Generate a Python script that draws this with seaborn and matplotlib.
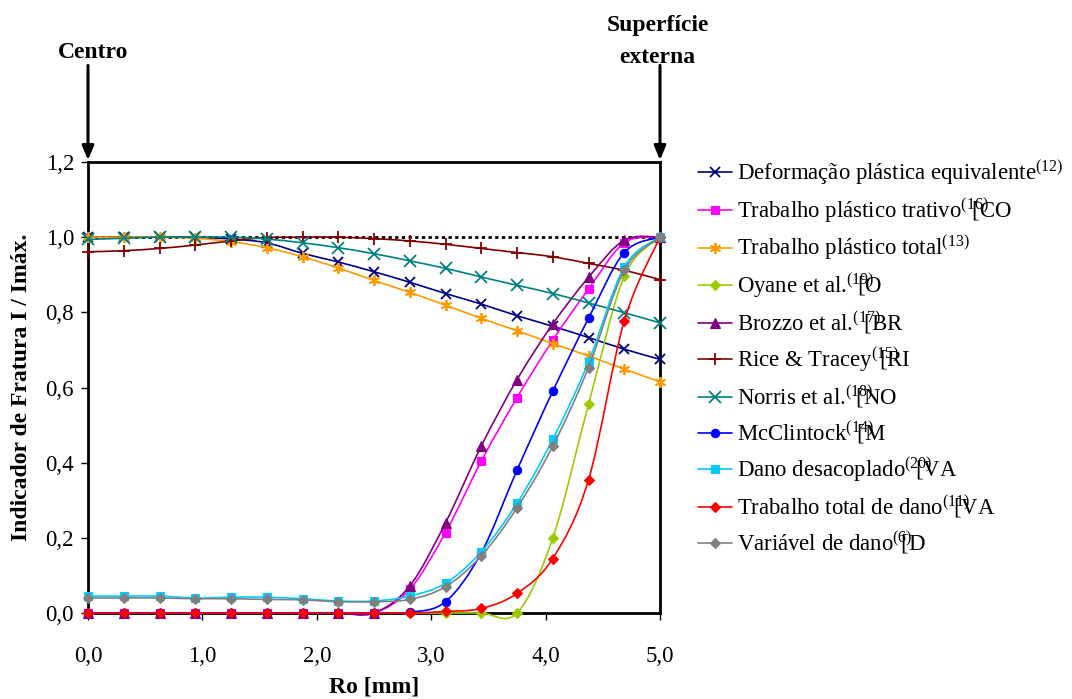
import numpy as np
import matplotlib
matplotlib.use("Agg")
import matplotlib.pyplot as plt
from matplotlib.path import Path
from matplotlib.patches import PathPatch
from matplotlib.lines import Line2D
import seaborn as sns

sns.set_theme(style="white")
plt.rcParams["font.family"] = ["Liberation Serif", "DejaVu Serif"]
plt.rcParams["mathtext.fontset"] = "custom"
plt.rcParams["mathtext.rm"] = "Liberation Serif"
plt.rcParams["mathtext.it"] = "Liberation Serif:italic"
plt.rcParams["mathtext.bf"] = "Liberation Serif:bold"

# raio medido a partir do centro [mm]
ro = [0.0, 0.3125, 0.625, 0.9375, 1.25, 1.5625, 1.875, 2.1875, 2.5,
      2.8125, 3.125, 3.4375, 3.75, 4.0625, 4.375, 4.6875, 5.0]

# indicador de fratura normalizado I / Imax para cada criterio
deformacao = [1.0, 1.0, 1.0, 1.0, 0.995, 0.985, 0.957, 0.934, 0.908,
              0.880, 0.850, 0.822, 0.791, 0.763, 0.733, 0.702, 0.675]
trativo = [0, 0, 0, 0, 0, 0, 0, 0, 0,
           0.063, 0.214, 0.404, 0.573, 0.726, 0.862, 0.985, 1.0]
plastico_total = [1.0, 1.0, 1.0, 0.997, 0.988, 0.972, 0.948, 0.918, 0.885,
                  0.853, 0.819, 0.784, 0.751, 0.717, 0.684, 0.649, 0.615]
oyane = [0, 0, 0, 0, 0, 0, 0, 0, 0,
         0, 0, 0, 0, 0.199, 0.555, 0.896, 1.0]
brozzo = [0, 0, 0, 0, 0, 0, 0, 0, 0,
          0.072, 0.240, 0.444, 0.621, 0.769, 0.893, 0.992, 1.0]
rice = [0.961, 0.964, 0.970, 0.979, 0.990, 0.999, 1.0, 1.0, 0.996,
        0.990, 0.981, 0.970, 0.959, 0.948, 0.930, 0.912, 0.887]
norris = [0.994, 0.997, 1.0, 1.0, 1.0, 0.995, 0.985, 0.972, 0.956,
          0.937, 0.917, 0.894, 0.872, 0.850, 0.825, 0.799, 0.772]
mcclintock = [0, 0, 0, 0, 0, 0, 0, 0, 0,
              0.002, 0.030, 0.160, 0.380, 0.590, 0.784, 0.959, 1.0]
desacoplado = [0.045, 0.045, 0.045, 0.040, 0.042, 0.042, 0.038, 0.032, 0.032,
               0.045, 0.079, 0.163, 0.292, 0.462, 0.668, 0.921, 1.0]
trabalho_dano = [0, 0, 0, 0, 0, 0, 0, 0, 0,
                 0, 0.004, 0.012, 0.052, 0.145, 0.354, 0.777, 1.0]
variavel_dano = [0.040, 0.040, 0.040, 0.038, 0.038, 0.036, 0.035, 0.030, 0.030,
                 0.036, 0.070, 0.152, 0.280, 0.444, 0.653, 0.912, 1.0]

labels = [
    r"Deformação plástica equivalente$^{(12)}$",
    r"Trabalho plástico trativo$^{(16)}\!\!\!\!\!\!$[CO",
    r"Trabalho plástico total$^{(13)}$",
    r"Oyane et al.$^{(19)}\!\!\!\!\!\!$[O",
    r"Brozzo et al.$^{(17)}\!\!\!\!\!\!$[BR",
    r"Rice & Tracey$^{(15)}\!\!\!\!\!\!\!$[RI",
    r"Norris et al.$^{(18)}\!\!\!\!\!\!$[NO",
    r"McClintock$^{(14)}\!\!\!\!\!\!$[M",
    r"Dano desacoplado$^{(20)}\!\!\!\!\!\!$[VA",
    r"Trabalho total de dano$^{(11)}\!\!\!\!\!\!$[VA",
    r"Variável de dano$^{(6)}\!\!\!\!$[D",
]
series = [deformacao, trativo, plastico_total, oyane, brozzo, rice, norris,
          mcclintock, desacoplado, trabalho_dano, variavel_dano]
colors = ["#000080", "#FF00FF", "#FF9900", "#99CC00", "#800080", "#800000",
          "#008080", "#0000FF", "#00CCFF", "#FF0000", "#808080"]
markers = ["x", "s", (6, 2, 0), "D", "^", "+", "x", "o", "s", "D", "D"]
msizes = [7, 6, 8, 5.5, 7, 8, 8, 6, 6, 5.5, 5.5]


def smooth_path(x, y):
    # curva suavizada tipo Excel (Bezier com tangentes de Catmull-Rom)
    pts = np.column_stack([np.asarray(x, float), np.asarray(y, float)])
    ext = np.vstack([pts[0], pts, pts[-1]])
    verts = [pts[0]]
    codes = [Path.MOVETO]
    for i in range(len(pts) - 1):
        p0, p1, p2, p3 = ext[i], ext[i + 1], ext[i + 2], ext[i + 3]
        verts += [p1 + (p2 - p0) / 6, p2 - (p3 - p1) / 6, p2]
        codes += [Path.CURVE4] * 3
    return Path(verts, codes)


fig = plt.figure(figsize=(10.72, 6.99), dpi=100)
ax = fig.add_axes([88 / 1072, 1 - 613 / 699, 572 / 1072, 451 / 699])
ax.set_facecolor("white")

handles = []
for k, (vals, c, m, ms) in enumerate(zip(series, colors, markers, msizes)):
    z = 3 + k * 0.05
    ax.add_patch(PathPatch(smooth_path(ro, vals), facecolor="none", edgecolor=c,
                           lw=1.2, zorder=z, clip_on=False))
    filled = m not in ("x", "+") and not isinstance(m, tuple)
    sns.lineplot(x=ro, y=vals, ax=ax, color=c, marker=m, markersize=ms,
                 markeredgecolor=c, markerfacecolor=c,
                 markeredgewidth=0.8 if filled else 1.3,
                 linestyle="none", legend=False, zorder=z + 0.01, clip_on=False)
    handles.append(Line2D([0], [0], color=c, lw=1.2, marker=m, markersize=ms,
                          markeredgecolor=c, markerfacecolor=c,
                          markeredgewidth=0.8 if filled else 1.3))

ax.axhline(1.0, color="black", lw=2, ls=(0, (1.2, 1.2)), zorder=2.5)

ax.set_xlim(0, 5)
ax.set_ylim(0, 1.2)
xt = [0, 1, 2, 3, 4, 5]
yt = [0, 0.2, 0.4, 0.6, 0.8, 1.0, 1.2]
ax.set_xticks(xt)
ax.set_xticklabels([f"{v:.1f}".replace(".", ",") for v in xt])
ax.set_yticks(yt)
ax.set_yticklabels([f"{v:.1f}".replace(".", ",") for v in yt])
ax.tick_params(axis="both", direction="out", length=5, width=1, color="black",
               labelsize=16.5, labelcolor="black", bottom=True, left=True)
ax.tick_params(axis="x", pad=19)
ax.tick_params(axis="y", pad=5)
for s in ax.spines.values():
    s.set_visible(True)
    s.set_color("black")
    s.set_linewidth(2)

ax.set_xlabel("Ro [mm]", fontsize=17, fontweight="bold", color="black")
ax.xaxis.set_label_coords(0.5, -0.14)
ax.set_ylabel("Indicador de Fratura I / Imáx.", fontsize=17, fontweight="bold",
              color="black")
ax.yaxis.set_label_coords(-0.098, 0.5)

arrow = dict(arrowstyle="-|>,head_length=0.6,head_width=0.25", color="black",
             lw=2.2, shrinkA=0, shrinkB=0, mutation_scale=14)
ax.annotate("", xy=(0, 1.205), xytext=(0, 1.457), arrowprops=arrow,
            annotation_clip=False)
ax.annotate("", xy=(5, 1.205), xytext=(5, 1.457), arrowprops=arrow,
            annotation_clip=False)
ax.text(0.04, 1.476, "Centro", ha="center", va="baseline", fontsize=17,
        fontweight="bold", color="black")
ax.text(4.98, 1.548, "Superfície", ha="center", va="baseline", fontsize=17,
        fontweight="bold", color="black")
ax.text(4.98, 1.463, "externa", ha="center", va="baseline", fontsize=17,
        fontweight="bold", color="black")

fig.legend(handles, labels, loc="upper left", bbox_to_anchor=(698 / 1072, 1 - 158 / 699),
           frameon=False, fontsize=16.4, handlelength=1.5, handletextpad=0.22,
           labelspacing=0.41, borderpad=0, borderaxespad=0, labelcolor="black")

fig.savefig("out.png", dpi=100, facecolor="white")
